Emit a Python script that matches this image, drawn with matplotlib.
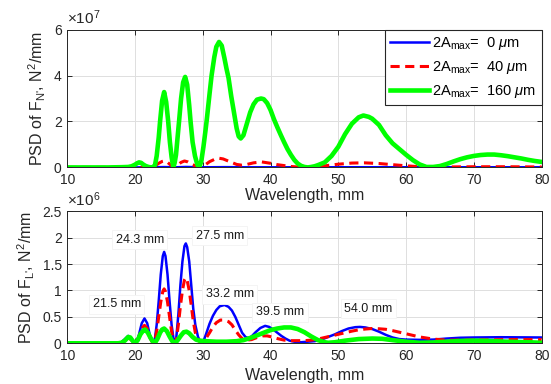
import matplotlib as mpl
mpl.use('Agg')
import matplotlib.pyplot as plt
from matplotlib.ticker import FormatStrFormatter

plt.rcParams['font.family'] = ['Liberation Sans', 'DejaVu Sans']
plt.rcParams['mathtext.fontset'] = 'custom'
plt.rcParams['mathtext.rm'] = 'Liberation Sans'
plt.rcParams['mathtext.it'] = 'Liberation Sans:italic'

# top panel: PSD of F_N (units of 1e7), (wavelength mm, value)
top_blue = [(10, 0), (20, 0), (22, 0.005), (24.3, 0.015), (26, 0.005), (27.5, 0.02),
            (30, 0.005), (33.2, 0.012), (37, 0.005), (54, 0.008), (80, 0.006)]
top_red = [(10, 0), (20, 0), (22.0, 0.01), (22.5, 0.02), (23.0, 0.08), (23.5, 0.18),
           (24.0, 0.26), (24.3, 0.28), (24.7, 0.25), (25.2, 0.12), (25.8, 0.0),
           (26.3, 0.1), (26.8, 0.22), (27.3, 0.28), (27.8, 0.24), (28.5, 0.12),
           (29.5, 0.0), (30.3, 0.1), (31.0, 0.25), (31.8, 0.36), (32.4, 0.4),
           (33.0, 0.37), (34.0, 0.25), (35.0, 0.13), (35.7, 0.1), (36.5, 0.13),
           (37.5, 0.2), (38.7, 0.24), (40.0, 0.18), (41.0, 0.12), (42.0, 0.08),
           (43.0, 0.04), (44.0, 0.02), (45.5, 0.0), (47, 0.03), (48, 0.07),
           (50, 0.14), (52, 0.19), (53.8, 0.2), (56, 0.17), (58, 0.12), (60, 0.07),
           (62, 0.03), (63.5, 0.01), (66, 0.02), (70, 0.03), (75, 0.03), (80, 0.02)]
top_green = [(10, 0), (12, 0), (14, 0), (16, 0), (18, 0.01), (19, 0.02), (19.5, 0.05),
             (20, 0.12), (20.3, 0.18), (20.6, 0.22), (20.9, 0.2), (21.25, 0.12),
             (21.6, 0.06), (22.0, 0.02), (22.4, 0.0), (22.7, 0.02), (22.95, 0.1),
             (23.2, 0.5), (23.5, 1.3), (23.7, 2.0), (24.0, 2.9), (24.3, 3.28),
             (24.6, 2.85), (24.9, 2.0), (25.15, 1.1), (25.4, 0.45), (25.65, 0.0),
             (25.85, 0.2), (26.05, 0.55), (26.25, 1.2), (26.5, 2.0), (26.8, 3.0),
             (27.1, 3.7), (27.4, 3.94), (27.7, 3.6), (28.0, 2.7), (28.2, 2.0),
             (28.5, 1.1), (28.85, 0.5), (29.2, 0.12), (29.5, 0.0), (29.8, 0.3),
             (30.1, 0.9), (30.4, 1.6), (30.6, 2.1), (31.0, 3.2), (31.3, 4.0),
             (31.7, 4.8), (32.0, 5.25), (32.4, 5.46), (32.8, 5.3), (33.2, 4.75),
             (33.5, 4.3), (33.8, 3.9), (34.2, 3.1), (34.6, 2.4), (35.0, 1.7),
             (35.3, 1.35), (35.6, 1.26), (36.0, 1.4), (36.5, 1.9), (37.0, 2.4),
             (37.5, 2.75), (38.0, 2.95), (38.6, 3.0), (39.0, 2.97), (39.5, 2.8),
             (40.0, 2.5), (40.5, 2.1), (41.0, 1.75), (41.5, 1.42), (42.0, 1.1),
             (42.5, 0.8), (43.0, 0.55), (43.5, 0.33), (44.0, 0.17), (44.5, 0.07),
             (45.0, 0.02), (45.5, 0.0), (46.0, 0.02), (46.5, 0.05), (47, 0.1),
             (48, 0.22), (49, 0.5), (50, 0.9), (51, 1.45), (52, 1.9), (53, 2.18),
             (53.7, 2.26), (54.5, 2.2), (55, 2.12), (56, 1.85), (57, 1.4), (58, 1.05),
             (59, 0.8), (60, 0.55), (61, 0.32), (62, 0.13), (63, 0.02), (64, 0.02),
             (65, 0.06), (66, 0.15), (67, 0.26), (68, 0.36), (69, 0.44), (70, 0.5),
             (71, 0.54), (72, 0.56), (73, 0.56), (74, 0.53), (75, 0.49), (76, 0.44),
             (77, 0.39), (78, 0.33), (79, 0.28), (80, 0.24)]

# bottom panel: PSD of F_L (units of 1e6)
bot_blue = [(10, 0), (17, 0), (17.5, 0.005), (18, 0.02), (18.5, 0.08), (19.0, 0.14),
            (19.4, 0.1), (19.8, 0.02), (20.1, 0.0), (20.5, 0.12), (21.0, 0.38),
            (21.4, 0.47), (21.8, 0.38), (22.2, 0.15), (22.6, 0.01), (22.9, 0.05),
            (23.2, 0.35), (23.5, 0.8), (23.8, 1.3), (24.1, 1.65), (24.3, 1.73),
            (24.5, 1.65), (24.8, 1.3), (25.1, 0.8), (25.4, 0.35), (25.7, 0.07),
            (25.9, 0.0), (26.1, 0.12), (26.4, 0.55), (26.7, 1.1), (27.0, 1.55),
            (27.3, 1.84), (27.5, 1.89), (27.7, 1.82), (28.0, 1.55), (28.3, 1.1),
            (28.6, 0.65), (28.9, 0.35), (29.3, 0.12), (29.7, 0.02), (30.0, 0.0),
            (30.5, 0.18), (31.0, 0.37), (31.5, 0.52), (32.0, 0.63), (32.5, 0.7),
            (33.2, 0.725), (33.8, 0.69), (34.3, 0.62), (34.8, 0.5), (35.3, 0.35),
            (35.8, 0.2), (36.3, 0.12), (36.7, 0.1), (37.2, 0.13), (37.8, 0.21),
            (38.5, 0.29), (39.2, 0.33), (39.8, 0.31), (40.4, 0.26), (41.0, 0.2),
            (41.6, 0.14), (42.2, 0.09), (42.8, 0.05), (43.5, 0.03), (44.5, 0.02),
            (45.5, 0.03), (46.5, 0.04), (47.5, 0.07), (48.5, 0.12), (49.5, 0.17),
            (50.5, 0.23), (51.5, 0.28), (52.5, 0.305), (53.2, 0.31), (54.0, 0.3),
            (55.0, 0.27), (56.0, 0.22), (57.0, 0.16), (58.0, 0.11), (59.0, 0.08),
            (60.0, 0.07), (62.0, 0.065), (64.0, 0.07), (66.0, 0.09), (68.0, 0.105),
            (70.0, 0.11), (74.0, 0.115), (80.0, 0.11)]
bot_red = [(10, 0), (17, 0), (18, 0.02), (18.5, 0.06), (19.0, 0.1), (19.4, 0.07),
           (19.8, 0.02), (20.1, 0.0), (20.5, 0.1), (21.0, 0.28), (21.4, 0.34),
           (21.8, 0.28), (22.2, 0.11), (22.6, 0.01), (22.9, 0.04), (23.2, 0.22),
           (23.5, 0.5), (23.8, 0.78), (24.1, 0.98), (24.3, 1.03), (24.5, 0.98),
           (24.8, 0.78), (25.1, 0.5), (25.4, 0.22), (25.7, 0.05), (25.9, 0.0),
           (26.1, 0.08), (26.4, 0.35), (26.7, 0.7), (27.0, 1.0), (27.3, 1.2),
           (27.5, 1.24), (27.7, 1.19), (28.0, 1.0), (28.3, 0.72), (28.6, 0.42),
           (28.9, 0.2), (29.3, 0.07), (29.7, 0.01), (30.0, 0.0), (30.5, 0.1),
           (31.0, 0.2), (31.5, 0.31), (32.0, 0.39), (32.6, 0.44), (33.2, 0.44),
           (33.8, 0.41), (34.3, 0.35), (34.8, 0.25), (35.3, 0.16), (35.8, 0.09),
           (36.5, 0.06), (37.2, 0.07), (38.0, 0.11), (38.8, 0.14), (39.5, 0.14),
           (40.2, 0.12), (41.0, 0.09), (42.0, 0.06), (43.0, 0.05), (44.0, 0.05),
           (45.0, 0.05), (46.0, 0.06), (47.0, 0.08), (48.0, 0.11), (49.0, 0.14),
           (50.0, 0.17), (51.0, 0.2), (52.0, 0.23), (53.0, 0.255), (54.0, 0.27),
           (55.0, 0.28), (56.0, 0.275), (57.0, 0.265), (58.0, 0.24), (59.0, 0.21),
           (60.0, 0.18), (61.0, 0.15), (62.0, 0.12), (63.0, 0.1), (64.0, 0.08),
           (65.0, 0.07), (66.0, 0.06), (70.0, 0.06), (75.0, 0.07), (80.0, 0.07)]
bot_green = [(10, 0), (17.5, 0), (18.0, 0.01), (18.5, 0.05), (19.0, 0.12), (19.3, 0.11),
             (19.7, 0.04), (20.0, 0.0), (20.4, 0.06), (20.8, 0.17), (21.2, 0.24),
             (21.5, 0.26), (21.9, 0.2), (22.3, 0.1), (22.7, 0.02), (22.9, 0.0),
             (23.3, 0.08), (23.7, 0.2), (24.0, 0.26), (24.3, 0.28), (24.7, 0.23),
             (25.1, 0.13), (25.5, 0.04), (25.9, 0.0), (26.3, 0.06), (26.8, 0.15),
             (27.2, 0.21), (27.6, 0.22), (28.0, 0.19), (28.5, 0.12), (29.0, 0.07),
             (29.5, 0.05), (30.5, 0.04), (32.0, 0.03), (33.5, 0.03), (35.0, 0.04),
             (36.0, 0.06), (37.0, 0.1), (38.0, 0.15), (39.0, 0.2), (40.0, 0.25),
             (41.0, 0.28), (42.0, 0.3), (43.0, 0.3), (44.0, 0.27), (45.0, 0.21),
             (46.0, 0.13), (47.0, 0.06), (48.0, 0.02), (48.5, 0.01), (49.5, 0.02),
             (51.0, 0.05), (53.0, 0.08), (55.0, 0.09), (56.5, 0.085), (58.0, 0.06),
             (60.0, 0.03), (62.0, 0.01), (64.0, 0.015), (66.0, 0.03), (68.0, 0.045),
             (70.0, 0.05), (72.0, 0.045), (75.0, 0.03), (78.0, 0.02), (80.0, 0.01)]

# peak labels in the bottom panel: (text, x, y)
peak_labels = [('24.3 mm', 20.7, 1.96), ('27.5 mm', 32.5, 2.04), ('21.5 mm', 17.3, 0.74),
               ('33.2 mm', 34.0, 0.93), ('39.5 mm', 41.4, 0.59), ('54.0 mm', 54.4, 0.65)]

legend_labels = [r'2A$_{\mathrm{max}}$=  0 $\mu$m',
                 r'2A$_{\mathrm{max}}$=  40 $\mu$m',
                 r'2A$_{\mathrm{max}}$=  160 $\mu$m']

dark = '#262626'

fig = plt.figure(figsize=(5.51, 3.84), dpi=100)
ax1 = fig.add_axes([0.122, 0.564, 0.861, 0.359])
ax2 = fig.add_axes([0.122, 0.106, 0.861, 0.344])

def style(ax, lpad):
    ax.set_xlim(10, 80)
    ax.set_xticks(range(10, 81, 10))
    ax.grid(True, color='#dedede', lw=0.7)
    ax.set_axisbelow(True)
    ax.tick_params(direction='in', top=True, right=True, length=3.5, width=0.7,
                   labelsize=10, colors=dark, labelcolor=dark, pad=4)
    for s in ax.spines.values():
        s.set_color(dark)
        s.set_linewidth(0.7)
    ax.set_xlabel('Wavelength, mm', fontsize=11.5, color=dark, labelpad=lpad)

def draw(ax, data, **kw):
    x, y = zip(*data)
    return ax.plot(x, y, **kw)[0]

l1 = draw(ax1, top_blue, color='blue', lw=1.8)
l2 = draw(ax1, top_red, color='red', lw=2.2, ls=(0, (3, 1.8)))
l3 = draw(ax1, top_green, color='#00ff00', lw=3.3)
style(ax1, 1)
ax1.set_ylim(0, 6)
ax1.set_yticks([0, 2, 4, 6])
ax1.set_ylabel(r"PSD of F$_{\mathrm{N}\text{'}}$, N$^{\mathrm{2}}$/mm", fontsize=11.5, color=dark)
ax1.text(0, 1.02, r'$\times\mathrm{10}^{\mathrm{7}}$', transform=ax1.transAxes,
         fontsize=11, color=dark, va='bottom', ha='left')
leg = ax1.legend([l1, l2, l3], legend_labels, loc='upper right', borderaxespad=0,
                 fontsize=10.5, fancybox=False, framealpha=1, edgecolor=dark,
                 handlelength=2.7, labelspacing=0.5, borderpad=0.35, handletextpad=0.2)
leg.get_frame().set_linewidth(0.8)

draw(ax2, bot_blue, color='blue', lw=1.8)
draw(ax2, bot_red, color='red', lw=2.2, ls=(0, (3, 1.8)))
draw(ax2, bot_green, color='#00ff00', lw=3.3)
style(ax2, 4)
ax2.set_ylim(0, 2.5)
ax2.set_yticks([0, 0.5, 1, 1.5, 2, 2.5])
ax2.yaxis.set_major_formatter(FormatStrFormatter('%g'))
ax2.set_ylabel(r"PSD of F$_{\mathrm{L}\text{'}}$, N$^{\mathrm{2}}$/mm", fontsize=11.5, color=dark)
ax2.text(0, 1.02, r'$\times\mathrm{10}^{\mathrm{6}}$', transform=ax2.transAxes,
         fontsize=11, color=dark, va='bottom', ha='left')
for txt, x, y in peak_labels:
    ax2.text(x, y, txt, fontsize=9, color='#1a1a1a', ha='center', va='center',
             bbox=dict(facecolor='white', edgecolor='#f3f3f3', lw=0.6, pad=2.5))

plt.savefig('out.png', dpi=100)
